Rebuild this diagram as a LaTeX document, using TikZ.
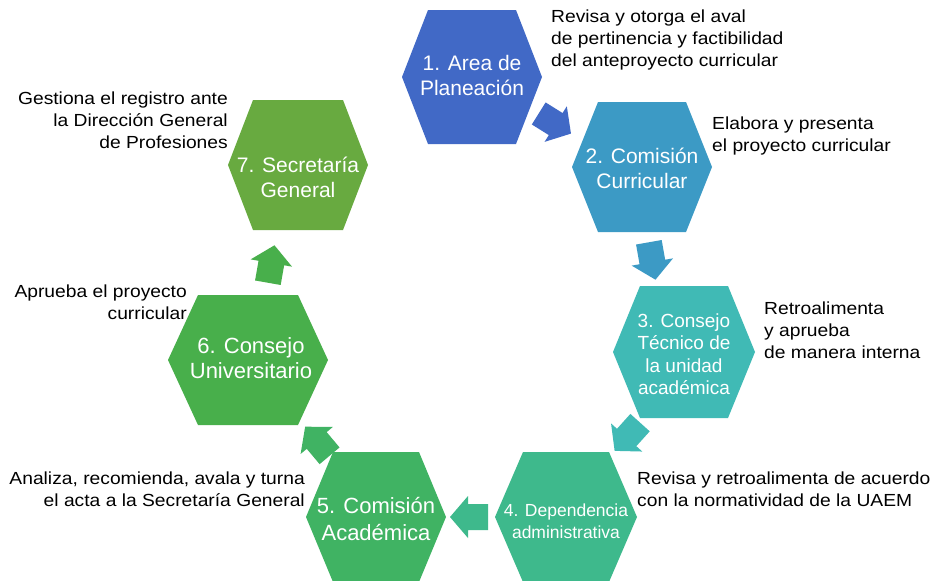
\documentclass[tikz,border=0pt]{standalone}
\usepackage{fontspec}
\setmainfont{Liberation Sans}
\newfontfamily\annfont[FakeStretch=1.1]{Liberation Sans}
\definecolor{c1}{RGB}{65,105,198}
\definecolor{c2}{RGB}{60,154,197}
\definecolor{c3}{RGB}{64,186,181}
\definecolor{c4}{RGB}{62,185,140}
\definecolor{c5}{RGB}{64,179,99}
\definecolor{c6}{RGB}{72,175,75}
\definecolor{c7}{RGB}{104,170,64}
\newcommand\hexshape[6]{\fill[#1, shift={(#2)}] (-#3,0) -- (-#4,-#5) -- (#4,-#5) -- (#3,0) -- (#4,#6) -- (-#4,#6) -- cycle;}
\newcommand\blockarr[3]{\fill[#1, shift={(#2)}, rotate=#3] (-18,-13) -- (2,-13) -- (2,-21) -- (20,0) -- (2,21) -- (2,13) -- (-18,13) -- cycle;}
\tikzset{
  hextext/.style={text=white, align=center, inner sep=0pt},
  ann/.style={text=black, inner sep=0pt, font=\annfont\fontsize{17.5}{22}\selectfont}
}
\begin{document}
\begin{tikzpicture}[x=1pt,y=-1pt]
\fill[white] (0,0) rectangle (930,581);
\useasboundingbox (0,0) rectangle (930,581);
% hexagon centres
\coordinate (p1) at (472,77);
\coordinate (p2) at (642,167);
\coordinate (p3) at (684,352);
\coordinate (p4) at (566,517);
\coordinate (p5) at (376,517);
\coordinate (p6) at (248,360);
\coordinate (p7) at (298,165);
\hexshape{c1}{p1}{70}{44}{67}{67}
\hexshape{c2}{p2}{70}{44}{65}{65}
\hexshape{c3}{p3}{71}{44}{66}{66}
\hexshape{c4}{p4}{71}{43}{65}{65}
\hexshape{c5}{p5}{70}{43}{65}{65}
\hexshape{c6}{p6}{80}{50}{65}{65}
\hexshape{c7}{p7}{70}{45}{65}{65}
% hexagon labels
\node[hextext, font=\fontsize{21}{25}\selectfont] (h1) at (472,75) {1. Area de\\Planeación};
\node[hextext, font=\fontsize{21}{25}\selectfont] (h2) at (642,168) {2. Comisión\\Curricular};
\node[hextext, font=\fontsize{19}{22.5}\selectfont] (h3) at (684,354) {3. Consejo\\Técnico de\\la unidad\\académica};
\node[hextext, font=\fontsize{17.5}{22}\selectfont] (h4) at (566,521) {4. Dependencia\\administrativa};
\node[hextext, font=\fontsize{22}{27}\selectfont] (h5) at (376,519) {5. Comisión\\Académica};
\node[hextext, font=\fontsize{22}{25.5}\selectfont] (h6) at (251,358) {6. Consejo\\Universitario};
\node[hextext, font=\fontsize{21}{25}\selectfont] (h7) at (298,177) {7. Secretaría\\General};
% block arrows
\coordinate (a12) at (554,123);
\coordinate (a23) at (652,260);
\coordinate (a34) at (628,436);
\coordinate (a45) at (470,517);
\coordinate (a56) at (318,442);
\coordinate (a67) at (271,265);
\blockarr{c1}{a12}{-32}
\blockarr{c2}{a23}{-80}
\blockarr{c3}{a34}{-132}
\blockarr{c4}{a45}{180}
\blockarr{c5}{a56}{-230}
\blockarr{c6}{a67}{-280}
% annotations
\node[ann, anchor=west, align=left] (t1) at (551,40) {Revisa y otorga el aval\\de pertinencia y factibilidad\\del anteproyecto curricular};
\node[ann, anchor=west, align=left] (t2) at (712,136) {Elabora y presenta\\el proyecto curricular};
\node[ann, anchor=west, align=left] (t3) at (764,330) {Retroalimenta\\y aprueba\\de manera interna};
\node[ann, anchor=west, align=left] (t4) at (637,489) {Revisa y retroalimenta de acuerdo\\con la normatividad de la UAEM};
\node[ann, anchor=east, align=right] (t5) at (305,489) {Analiza, recomienda, avala y turna\\el acta a la Secretaría General};
\node[ann, anchor=east, align=right] (t6) at (187,302) {Aprueba el proyecto\\curricular};
\node[ann, anchor=east, align=right] (t7) at (228,120) {Gestiona el registro ante\\la Dirección General\\de Profesiones};
\end{tikzpicture}
\end{document}
